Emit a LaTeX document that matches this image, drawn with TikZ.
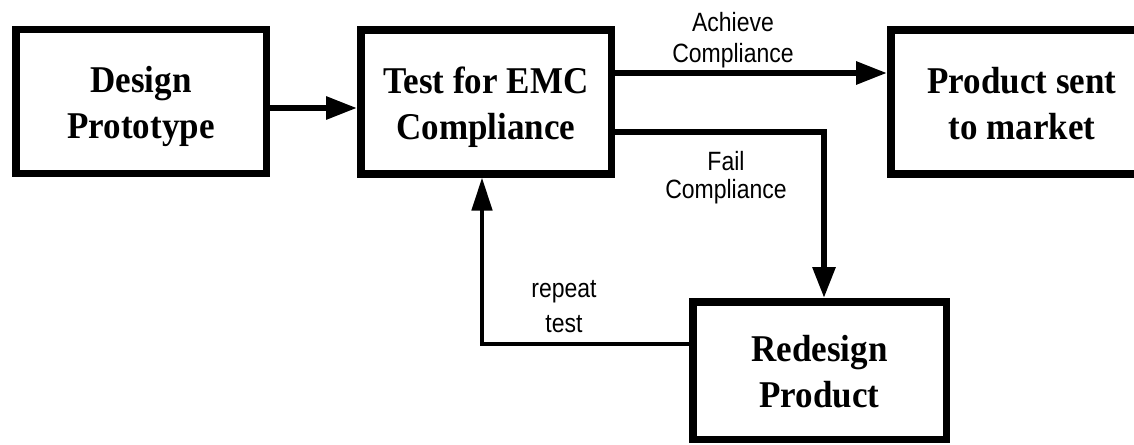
\documentclass[tikz,border=0pt]{standalone}
\usepackage{fontspec}
\usepackage{graphicx}
\setmainfont{Liberation Serif}
\newfontfamily\lblfont{Liberation Sans}
\usetikzlibrary{arrows.meta}
\newcommand\vstretchtxt[2]{\scalebox{1}[#1]{\begin{tabular}{@{}c@{}}#2\end{tabular}}}
\newcommand\lowertxt[2]{\raisebox{-#1}[\height][\depth]{#2}}
\begin{document}
\begin{tikzpicture}[x=1pt,y=-1pt,
 box/.style={draw, line width=7.5pt, inner sep=0pt,
   font=\fontsize{35}{42.6}\selectfont\bfseries,
   minimum width=250.5pt, minimum height=143.5pt},
 lbl/.style={inner sep=0pt},
 arr/.style={line width=6pt, -{Triangle[length=31pt,width=22pt]}},
 arrthin/.style={line width=4.5pt, -{Triangle[length=33pt,width=20pt]}}]
\useasboundingbox (0,0) rectangle (1134,444);
\fill[white] (0,0) rectangle (1134,444);
\node[box] (d) at (141,101.5) {\lowertxt{5pt}{\vstretchtxt{1.08}{Design\\Prototype}}};
\node[box] (t) at (486,102) {\lowertxt{5pt}{\vstretchtxt{1.08}{Test for EMC\\Compliance}}};
\node[box, minimum width=262.5pt] (p) at (1022,102) {\lowertxt{5pt}{\vstretchtxt{1.08}{Product sent\\to market}}};
\node[box, minimum width=253.5pt, minimum height=137.5pt] (r) at (819.5,370.5) {\lowertxt{5pt}{\vstretchtxt{1.08}{Redesign\\Product}}};
\draw[arr] ([yshift=-6.5pt]d.east) -- ([yshift=-6.5pt]d.east -| t.west);
\draw[arr] ([yshift=29pt]t.east) -- ([yshift=29pt]t.east -| p.west);
\draw[arr] ([yshift=-30pt]t.east) -| ([xshift=4.5pt]r.north);
\draw[arrthin] ([yshift=26.5pt]r.west) -| ([xshift=-4pt]t.south);
\node[lbl, font=\fontsize{23}{26.1}\selectfont\lblfont] (la) at (733,41) {\vstretchtxt{1.15}{Achieve\\Compliance}};
\node[lbl, font=\fontsize{23}{24.35}\selectfont\lblfont] (lf) at (726,178.4) {\vstretchtxt{1.15}{Fail\\Compliance}};
\node[lbl, font=\fontsize{23}{29.6}\selectfont\lblfont] (lr) at (564,308.2) {\vstretchtxt{1.15}{repeat\\test}};
\end{tikzpicture}
\end{document}
